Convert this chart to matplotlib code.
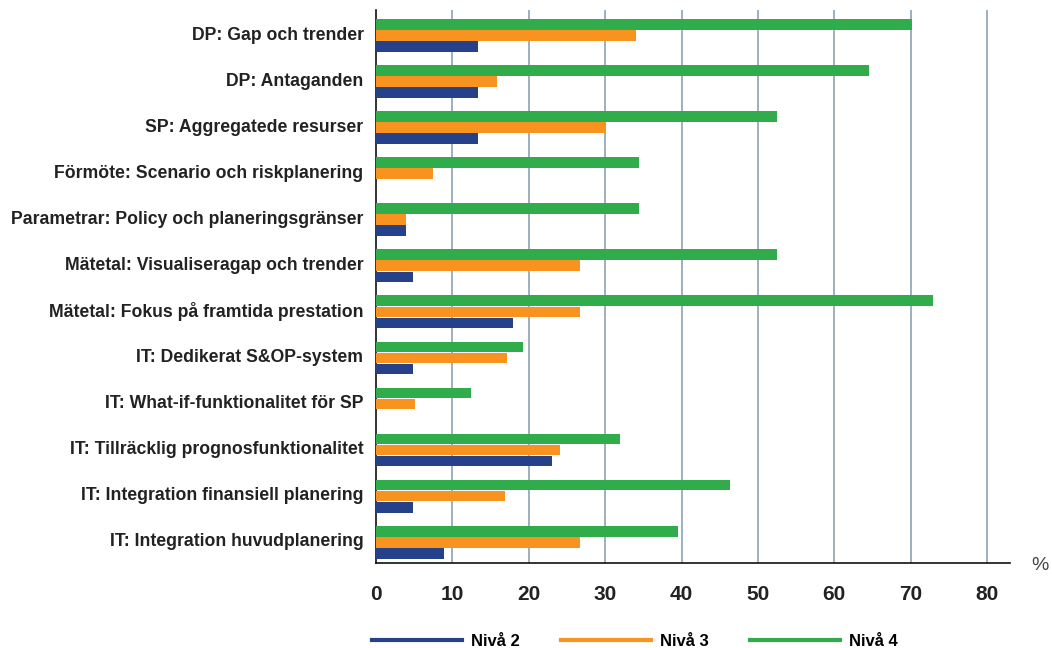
import matplotlib
matplotlib.use("Agg")
import matplotlib.pyplot as plt
import numpy as np
from matplotlib.lines import Line2D

categories = [
    "DP: Gap och trender",
    "DP: Antaganden",
    "SP: Aggregatede resurser",
    "Förmöte: Scenario och riskplanering",
    "Parametrar: Policy och planeringsgränser",
    "Mätetal: Visualiseragap och trender",
    "Mätetal: Fokus på framtida prestation",
    "IT: Dedikerat S&OP-system",
    "IT: What-if-funktionalitet för SP",
    "IT: Tillräcklig prognosfunktionalitet",
    "IT: Integration finansiell planering",
    "IT: Integration huvudplanering",
]
niva2 = [13.3, 13.3, 13.3, 0, 3.9, 4.9, 17.9, 4.9, 0, 23.0, 4.9, 8.9]
niva3 = [34.0, 15.9, 30.1, 7.4, 3.9, 26.7, 26.7, 17.1, 5.1, 24.1, 16.9, 26.7]
niva4 = [70.2, 64.6, 52.5, 34.4, 34.4, 52.5, 72.9, 19.2, 12.4, 32.0, 46.3, 39.5]
series_names = ["Nivå 2", "Nivå 3", "Nivå 4"]
xticks = [0, 10, 20, 30, 40, 50, 60, 70, 80]

c_blue = "#244189"
c_orange = "#f7931e"
c_green = "#30ac4a"
grid_c = "#8ca2b2"

plt.rcParams['font.family'] = ['Liberation Sans', 'DejaVu Sans']

fig = plt.figure(figsize=(10.52, 6.48), dpi=100)
ax = fig.add_axes([376/1052, 1-563/648, (1010-376)/1052, (563-10)/648])

y = np.arange(len(categories)) + 0.05
h = 0.23
off = 0.24
ax.barh(y - off, niva4, height=h, color=c_green, zorder=3)
ax.barh(y, niva3, height=h, color=c_orange, zorder=3)
ax.barh(y + off, niva2, height=h, color=c_blue, zorder=3)

ax.set_ylim(len(categories) - 0.5, -0.5)
ax.set_xlim(0, 83.0)
for xv in xticks[1:]:
    ax.axvline(xv, color=grid_c, lw=1.2, zorder=1)

ax.set_yticks(np.arange(len(categories)))
ax.set_yticklabels(categories, fontsize=12.7, fontweight='bold', color='#222222')
ax.set_xticks(xticks)
ax.set_xticklabels([str(v) for v in xticks], fontsize=15, fontweight='bold', color='#222222')
ax.tick_params(axis='y', length=0, pad=9)
ax.tick_params(axis='x', length=0, pad=16)

for s in ['top', 'right']:
    ax.spines[s].set_visible(False)
for s in ['left', 'bottom']:
    ax.spines[s].set_color('#111111')
    ax.spines[s].set_linewidth(1.2)

fig.text(1040/1052, 1-565/648, "%", fontsize=14, fontweight='light', color='#444444',
         ha='center', va='center')

handles = [Line2D([0], [0], color=c, lw=3) for c in (c_blue, c_orange, c_green)]
fig.legend(handles, series_names, loc='center', bbox_to_anchor=(635/1052, 1-641/648),
           ncol=3, frameon=False, handlelength=5.4, handletextpad=0.54, columnspacing=2.46,
           borderpad=0, prop={'weight': 'bold', 'size': 12})

fig.savefig("out.png", dpi=100)
